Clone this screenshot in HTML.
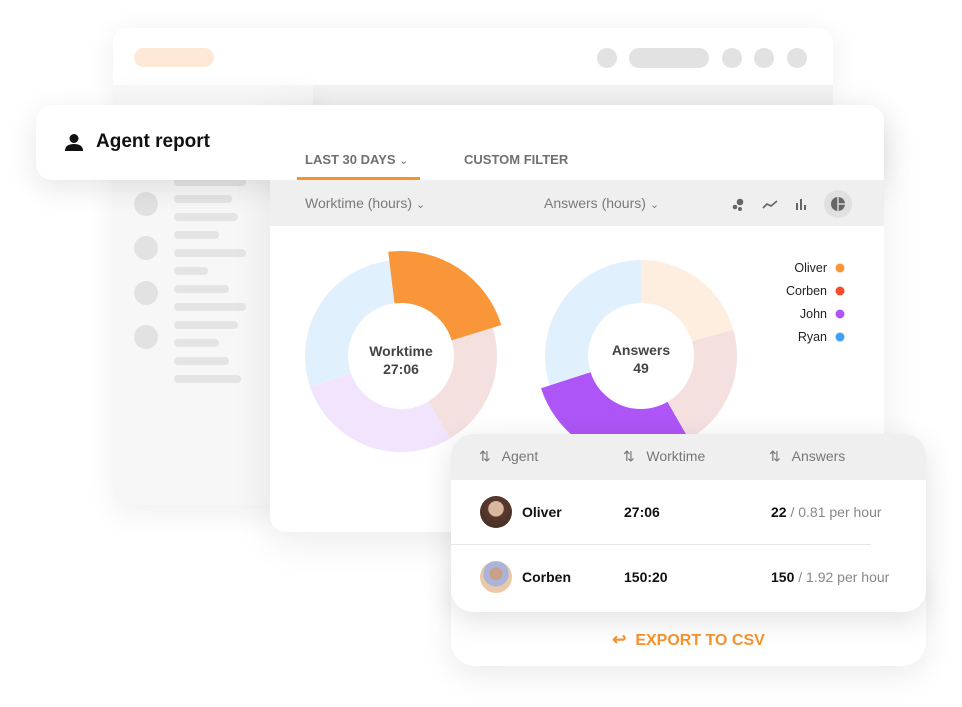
<!DOCTYPE html>
<html><head><meta charset="utf-8"><style>
*{margin:0;padding:0;box-sizing:border-box}
body{width:962px;height:707px;background:#fff;position:relative;overflow:hidden;font-family:"Liberation Sans",sans-serif}
.abs{position:absolute}
.back{left:113px;top:28px;width:720px;height:57px;background:#fff;border-radius:14px 14px 0 0;box-shadow:0 6px 30px rgba(0,0,0,.08)}
.side{left:113px;top:85px;width:200px;height:420px;background:#f7f7f7;border-radius:0 0 0 14px;box-shadow:0 10px 30px rgba(0,0,0,.06)}
.main{left:270px;top:105px;width:614px;height:427px;background:#fff;border-radius:0 16px 16px 16px;box-shadow:0 10px 40px rgba(0,0,0,.08)}
.title{left:36px;top:105px;width:848px;height:75px;background:#fff;border-radius:16px 16px 0 16px;box-shadow:0 8px 30px rgba(0,0,0,.10)}
.dot{background:#e2e2e2;border-radius:50%}
.bar{background:#e4e4e4;border-radius:5px;height:8px}
.gc{color:#7a7a7a}
</style></head><body>
<div class="abs back"></div>
<div class="abs" style="left:113px;top:85px;width:720px;height:20px;background:#f3f3f3"></div>
<div class="abs" style="left:134px;top:48px;width:80px;height:19px;background:#fde9d6;border-radius:10px"></div>
<div class="abs dot" style="left:597px;top:48px;width:20px;height:20px"></div>
<div class="abs" style="left:629px;top:48px;width:80px;height:20px;background:#e2e2e2;border-radius:10px"></div>
<div class="abs dot" style="left:722px;top:48px;width:20px;height:20px"></div>
<div class="abs dot" style="left:754px;top:48px;width:20px;height:20px"></div>
<div class="abs dot" style="left:787px;top:48px;width:20px;height:20px"></div>

<div class="abs side"></div>
<div class="abs bar" style="left:174px;top:178px;width:72px"></div>
<div class="abs dot" style="left:134px;top:192px;width:24px;height:24px"></div>
<div class="abs bar" style="left:174px;top:195px;width:58px"></div>
<div class="abs bar" style="left:174px;top:213px;width:64px"></div>
<div class="abs dot" style="left:134px;top:236px;width:24px;height:24px"></div>
<div class="abs bar" style="left:174px;top:231px;width:45px"></div>
<div class="abs bar" style="left:174px;top:249px;width:72px"></div>
<div class="abs bar" style="left:174px;top:267px;width:34px"></div>
<div class="abs dot" style="left:134px;top:281px;width:24px;height:24px"></div>
<div class="abs bar" style="left:174px;top:285px;width:55px"></div>
<div class="abs bar" style="left:174px;top:303px;width:72px"></div>
<div class="abs dot" style="left:134px;top:325px;width:24px;height:24px"></div>
<div class="abs bar" style="left:174px;top:321px;width:64px"></div>
<div class="abs bar" style="left:174px;top:339px;width:45px"></div>
<div class="abs bar" style="left:174px;top:357px;width:55px"></div>
<div class="abs bar" style="left:174px;top:375px;width:67px"></div>

<div class="abs main"></div>
<div class="abs title"></div>
<svg class="abs" style="left:64px;top:133px" width="20" height="20" viewBox="0 0 20 20"><circle cx="10" cy="5.5" r="4.5" fill="#111"/><path d="M1 18 Q1 11 10 11 Q19 11 19 18Z" fill="#111"/></svg>
<div class="abs" style="left:96px;top:131px;font-size:19px;font-weight:bold;color:#111">Agent report</div>
<div class="abs" style="left:305px;top:152px;font-size:13px;font-weight:bold;color:#707070">LAST 30 DAYS <span style="font-weight:normal;font-size:11px">⌄</span></div>
<div class="abs" style="left:297px;top:177px;width:123px;height:3px;background:#f7932e"></div>
<div class="abs" style="left:464px;top:152px;font-size:13px;font-weight:bold;color:#707070">CUSTOM FILTER</div>

<div class="abs" style="left:270px;top:180px;width:614px;height:46px;background:#efefef"></div>
<div class="abs gc" style="left:305px;top:195px;font-size:14px">Worktime (hours) <span style="font-size:11px">⌄</span></div>
<div class="abs gc" style="left:544px;top:195px;font-size:14px">Answers (hours) <span style="font-size:11px">⌄</span></div>
<svg class="abs" style="left:728px;top:190px" width="140" height="28">
<circle cx="7" cy="17" r="2.3" fill="#666"/><circle cx="12" cy="12" r="3.3" fill="#666"/><circle cx="12" cy="19" r="2" fill="#666"/>
<polyline points="35,18 39,14 43,16 49,11" fill="none" stroke="#666" stroke-width="1.6"/>
<rect x="68" y="13" width="2" height="7" fill="#666"/><rect x="72" y="9" width="2" height="11" fill="#666"/><rect x="76" y="15" width="2" height="5" fill="#666"/>
<circle cx="110" cy="14" r="14" fill="#e0e0e0"/><circle cx="110" cy="14" r="7" fill="#666"/><rect x="109.3" y="6" width="1.4" height="16" fill="#e0e0e0"/><rect x="110" y="13.3" width="8" height="1.4" fill="#e0e0e0"/>
</svg>

<svg class="abs" style="left:0;top:0" width="962" height="707">
<g transform="rotate(-90 401 356)" fill="none">
<circle cx="401" cy="356" r="74.5" stroke="#f5e0e0" stroke-width="43" stroke-dasharray="100.1 1000" stroke-dashoffset="-93.6"/>
<circle cx="401" cy="356" r="74.5" stroke="#f1e4fc" stroke-width="43" stroke-dasharray="132.6 1000" stroke-dashoffset="-193.7"/>
<circle cx="401" cy="356" r="74.5" stroke="#e1f0fd" stroke-width="43" stroke-dasharray="141.7 1000" stroke-dashoffset="-326.4"/>
</g>
<g transform="rotate(-97 401 356)" fill="none">
<circle cx="401" cy="356" r="79" stroke="#f9963a" stroke-width="52" stroke-dasharray="110 1000" stroke-dashoffset="0"/>
</g>
<g transform="rotate(-90 641 356)" fill="none">
<circle cx="641" cy="356" r="74.5" stroke="#fdeedf" stroke-width="43" stroke-dasharray="96.2 1000" stroke-dashoffset="0"/>
<circle cx="641" cy="356" r="74.5" stroke="#f5e0e0" stroke-width="43" stroke-dasharray="98.8 1000" stroke-dashoffset="-96.2"/>
<circle cx="641" cy="356" r="74.5" stroke="#e1f0fd" stroke-width="43" stroke-dasharray="140.4 1000" stroke-dashoffset="-327.7"/>
<circle cx="641" cy="356" r="79" stroke="#ad55f6" stroke-width="52" stroke-dasharray="140.7 1000" stroke-dashoffset="-206.8"/>
</g>
<text x="401" y="356" text-anchor="middle" font-family="Liberation Sans" font-weight="bold" font-size="14" fill="#444">Worktime</text>
<text x="401" y="374" text-anchor="middle" font-family="Liberation Sans" font-weight="bold" font-size="14" fill="#444">27:06</text>
<text x="641" y="355" text-anchor="middle" font-family="Liberation Sans" font-weight="bold" font-size="14" fill="#444">Answers</text>
<text x="641" y="373" text-anchor="middle" font-family="Liberation Sans" font-weight="bold" font-size="14" fill="#444">49</text>
<g font-family="Liberation Sans" font-size="12.5" fill="#222" text-anchor="end">
<text x="827" y="272">Oliver</text><text x="827" y="295">Corben</text><text x="827" y="318">John</text><text x="827" y="341">Ryan</text></g>
<circle cx="840" cy="268" r="4.5" fill="#f9963a"/><circle cx="840" cy="291" r="4.5" fill="#f94a2e"/><circle cx="840" cy="314" r="4.5" fill="#ad55f6"/><circle cx="840" cy="337" r="4.5" fill="#3fa1f7"/>
</svg>

<div class="abs" style="left:451px;top:560px;width:475px;height:106px;background:#fff;border-radius:24px;box-shadow:0 10px 30px rgba(0,0,0,.08)"></div>
<div class="abs" style="left:451px;top:630px;width:475px;text-align:center;font-size:16px;font-weight:bold;color:#f7932e"><span style="font-size:17px">↩</span>&nbsp; EXPORT TO CSV</div>
<div class="abs" style="left:451px;top:434px;width:475px;height:178px;background:#fff;border-radius:22px;overflow:hidden;box-shadow:0 8px 30px rgba(0,0,0,.12)">
 <div style="height:46px;background:#efefef;position:relative;font-size:14px;color:#777">
  <span class="abs" style="left:28px;top:14px">⇅&nbsp;&nbsp; Agent</span>
  <span class="abs" style="left:172px;top:14px">⇅&nbsp;&nbsp; Worktime</span>
  <span class="abs" style="left:318px;top:14px">⇅&nbsp;&nbsp; Answers</span>
 </div>
 <div class="abs" style="left:0;top:110px;width:420px;height:1px;background:#e6e6e6"></div>
 <div class="abs" style="left:29px;top:62px;width:32px;height:32px;border-radius:50%;background:radial-gradient(circle at 50% 40%,#d9b8a0 0 30%,#5a3a2c 32%,#3b2a24)"></div>
 <div class="abs" style="left:71px;top:70px;font-size:14px;font-weight:bold;color:#111">Oliver</div>
 <div class="abs" style="left:173px;top:70px;font-size:14px;font-weight:bold;color:#111">27:06</div>
 <div class="abs" style="left:320px;top:70px;font-size:14px;color:#888"><b style="color:#111">22</b> / 0.81 per hour</div>
 <div class="abs" style="left:29px;top:127px;width:32px;height:32px;border-radius:50%;background:radial-gradient(circle at 50% 40%,#c9a08a 0 25%,#aab4d8 27% 50%,#e9c9a8 52%)"></div>
 <div class="abs" style="left:71px;top:135px;font-size:14px;font-weight:bold;color:#111">Corben</div>
 <div class="abs" style="left:173px;top:135px;font-size:14px;font-weight:bold;color:#111">150:20</div>
 <div class="abs" style="left:320px;top:135px;font-size:14px;color:#888"><b style="color:#111">150</b> / 1.92 per hour</div>
</div>
</body></html>
